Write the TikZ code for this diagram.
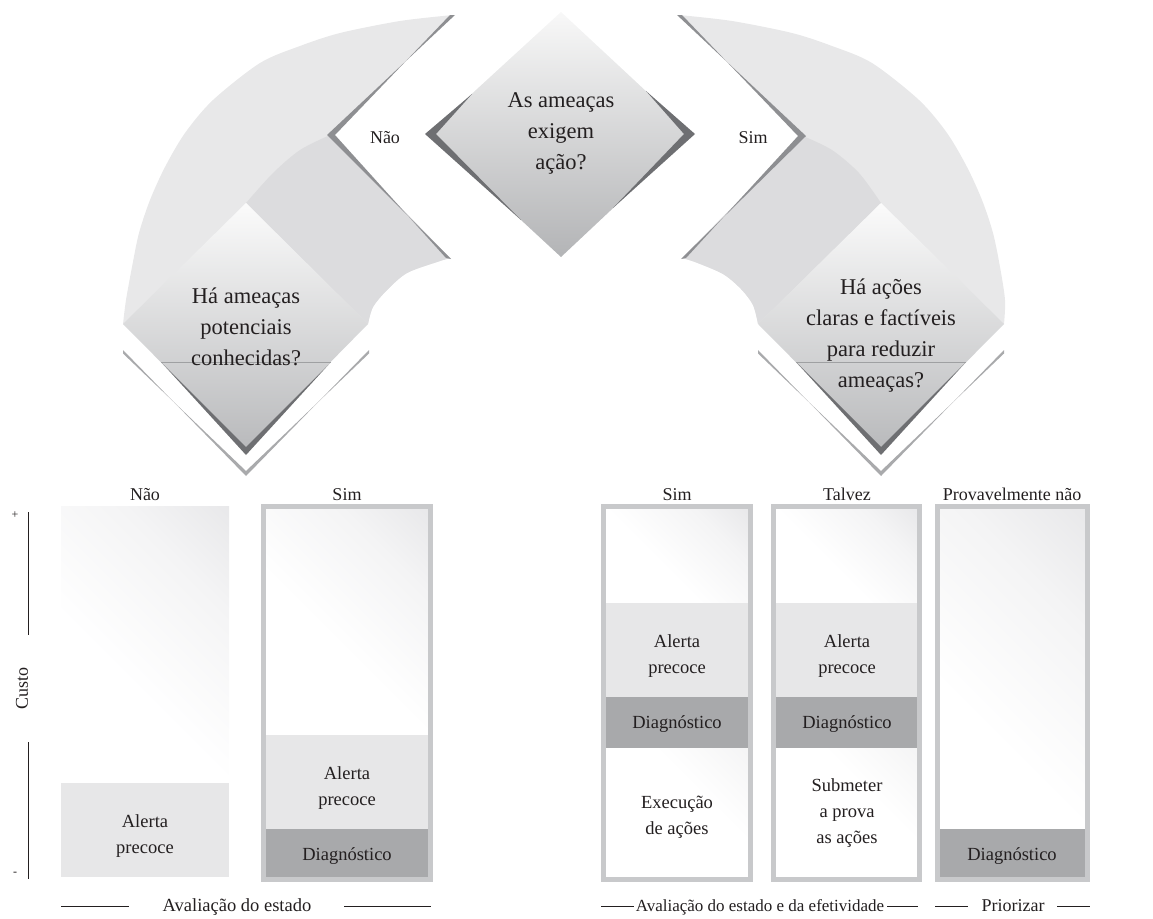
\documentclass[tikz,border=0pt]{standalone}
\usepackage{fontspec}
\setmainfont{Liberation Serif}
\definecolor{ink}{HTML}{231F20}
\definecolor{bandlight}{HTML}{E8E8E9}
\definecolor{banddark}{HTML}{DCDCDE}
\definecolor{edgedark}{HTML}{6E6F72}
\definecolor{notchgray}{HTML}{8E8F92}
\definecolor{shadowgray}{HTML}{A9AAAC}
\definecolor{hlinegray}{HTML}{9FA0A2}
\definecolor{framegray}{HTML}{C8C9CB}
\definecolor{alertgray}{HTML}{E7E7E8}
\definecolor{diaggray}{HTML}{A8A9AB}
\definecolor{cornersoft}{HTML}{F4F4F5}
\definecolor{cornermid}{HTML}{E6E6E8}
\definecolor{cornergray}{HTML}{D6D7D9}
\definecolor{cornerlight}{HTML}{EEEEEF}
\definecolor{dtop}{HTML}{F8F8F8}
\definecolor{dbot}{HTML}{B3B4B6}
\definecolor{ltop}{HTML}{FBFBFB}
\definecolor{lbot}{HTML}{B9BABC}
\pgfdeclarehorizontalshading{cornerfade}{100bp}{color(0bp)=(white); color(50bp)=(white); color(72bp)=(cornersoft); color(88bp)=(cornermid); color(100bp)=(cornergray)}
\pgfdeclarehorizontalshading{cornerfadelight}{100bp}{color(0bp)=(white); color(62bp)=(white); color(100bp)=(cornerlight)}
% a rectangle whose fill fades at 45 degrees towards its top right corner
\newcommand{\fadebox}[6]{%
  \begin{scope}
    \clip (#1,#2) rectangle (#3,#4);
    \shade[shading=#6, shading angle=45] (#3-#5,#2) rectangle (#3,#2+#5);
  \end{scope}}
\begin{document}
\begin{tikzpicture}[x=1pt,y=-1pt,
  qtext/.style={font=\fontsize{22.5}{31}\selectfont, align=center, text=ink, inner sep=0pt},
  ctext/.style={font=\fontsize{18.5}{26}\selectfont, align=center, text=ink, inner sep=0pt},
  lbl/.style={font=\fontsize{18}{22}\selectfont, text=ink, inner sep=0pt},
  tick/.style={font=\fontsize{12}{14}\selectfont, text=ink, inner sep=0pt},
  frame/.style={draw=framegray, line width=5pt},
  rule/.style={draw=ink, line width=0.8pt},
  hline/.style={draw=hlinegray, line width=0.7pt},
]
\useasboundingbox (0,0) rectangle (1153,918);

% ---------- left curved band ----------
\fill[bandlight] plot[smooth] coordinates {(453,15) (400,21) (340,33) (300,46) (260,63) (213,100) (185,133) (165,167) (150,200) (139,233) (132,267) (126,300) (123,324)}
  -- (368,324)
  -- plot[smooth] coordinates {(368,324) (373,307) (387,290) (407,273) (437,262) (450,258)}
  -- (330,135) -- cycle;
\fill[banddark] plot[smooth] coordinates {(330,135) (300,150) (273,173) (246,203)}
  -- (368,324)
  -- plot[smooth] coordinates {(368,324) (373,307) (387,290) (407,273) (437,262) (450,258)}
  -- cycle;
\fill[notchgray] (455,15) -- (327,135) -- (451,259) -- (446,258) -- (335,135) -- (450,15) -- cycle;

% ---------- right curved band ----------
\fill[bandlight] plot[smooth] coordinates {(679,15) (732,21) (792,33) (832,46) (872,63) (919,100) (947,133) (967,167) (982,200) (993,233) (1000,267) (1005,300) (1004,324)}
  -- (758,324)
  -- plot[smooth] coordinates {(758,324) (753,305) (741,289) (723,274) (695,262) (682,258)}
  -- (803,136) -- cycle;
\fill[banddark] plot[smooth] coordinates {(803,136) (832,150) (859,173) (881,203)}
  -- (758,324)
  -- plot[smooth] coordinates {(758,324) (753,305) (741,289) (723,274) (695,262) (682,258)}
  -- cycle;
\fill[notchgray] (677,15) -- (806,136) -- (681,259) -- (686,258) -- (798,136) -- (682,15) -- cycle;

% ---------- top decision ----------
\shade[top color=dtop, bottom color=dbot] (561,12) -- (692,134) -- (561,257) -- (428,134) -- cycle;
\fill[edgedark] (472,94) -- (425,134) -- (521,220) -- (436,134) -- cycle;
\fill[edgedark] (646,91) -- (695,134) -- (613,208) -- (684,134) -- cycle;

% ---------- lower left decision ----------
\fill[shadowgray] (123,350) -- (246,476) -- (369,350) -- (369,353.5) -- (246,471) -- (123,353.5) -- cycle;
\shade[top color=ltop, bottom color=lbot] (246,203) -- (368,324) -- (246,448) -- (123,324) -- cycle;
\fill[edgedark] (161,362) -- (246,455) -- (331,362) -- (246,447) -- cycle;
\draw[hline] (161,362) -- (331,362);

% ---------- lower right decision ----------
\fill[shadowgray] (758,350) -- (881,476) -- (1004,350) -- (1004,353.5) -- (881,471) -- (758,353.5) -- cycle;
\shade[top color=ltop, bottom color=lbot] (881,203) -- (1004,324) -- (881,448) -- (758,324) -- cycle;
\fill[edgedark] (796,362) -- (881,455) -- (966,362) -- (881,447) -- cycle;
\draw[hline] (796,362) -- (966,362);

% ---------- columns ----------
% Nao
\fadebox{61}{506}{229}{783}{277}{cornerfade}
\fill[alertgray] (61,783) rectangle (229,877);
% Sim (status)
\fadebox{266}{509}{428}{735}{226}{cornerfade}
\fill[alertgray] (266,735) rectangle (428,829);
\fill[diaggray] (266,829) rectangle (428,877);
\draw[frame] (263.5,506.5) rectangle (430.5,879.5);
% Sim (effectiveness)
\fadebox{606}{509}{748}{603}{142}{cornerfade}
\fill[alertgray] (606,603) rectangle (748,697);
\fill[diaggray] (606,697) rectangle (748,748);
\fadebox{606}{748}{748}{877}{142}{cornerfadelight}
\draw[frame] (603.5,506.5) rectangle (750.5,879.5);
% Talvez
\fadebox{776}{509}{917}{603}{141}{cornerfade}
\fill[alertgray] (776,603) rectangle (917,697);
\fill[diaggray] (776,697) rectangle (917,748);
\fadebox{776}{748}{917}{877}{141}{cornerfadelight}
\draw[frame] (773.5,506.5) rectangle (919.5,879.5);
% Provavelmente nao
\fadebox{940}{509}{1085}{829}{320}{cornerfade}
\fill[diaggray] (940,829) rectangle (1085,877);
\draw[frame] (937.5,506.5) rectangle (1087.5,879.5);

% ---------- cost axis ----------
\coordinate (ax1) at (28,512);
\coordinate (ax2) at (28,635);
\coordinate (ax3) at (28,742);
\coordinate (ax4) at (28,879);
\draw[rule] (ax1) -- (ax2);
\draw[rule] (ax3) -- (ax4);
\node[tick] (plus) at (15,515) {+};
\node[tick] (minus) at (15,874) {-};
\node[lbl, rotate=90] (cost) at (22,688) {Custo};

% ---------- texts ----------
\node[qtext] (q0) at (561,133) {As ameaças\\exigem\\ação?};
\node[qtext] (q1) at (246,327) {Há ameaças\\potenciais\\conhecidas?};
\node[qtext] (q2) at (881,336) {Há ações\\claras e factíveis\\para reduzir\\ameaças?};
\node[lbl, anchor=base] (no0) at (385,143) {Não};
\node[lbl, anchor=base] (yes0) at (753,143) {Sim};

\node[lbl, anchor=base] (h1) at (145,500) {Não};
\node[lbl, anchor=base] (h2) at (347,500) {Sim};
\node[lbl, anchor=base] (h3) at (677,500) {Sim};
\node[lbl, anchor=base] (h4) at (847,500) {Talvez};
\node[lbl, anchor=base] (h5) at (1012,500) {Provavelmente não};

\node[ctext] (c1a) at (145,836) {Alerta\\precoce};
\node[ctext] (c2a) at (347,788) {Alerta\\precoce};
\node[ctext] (c2d) at (347,856) {Diagnóstico};
\node[ctext] (c3a) at (677,656) {Alerta\\precoce};
\node[ctext] (c3d) at (677,724) {Diagnóstico};
\node[ctext] (c3e) at (677,817) {Execução\\de ações};
\node[ctext] (c4a) at (847,656) {Alerta\\precoce};
\node[ctext] (c4d) at (847,724) {Diagnóstico};
\node[ctext] (c4e) at (847,813) {Submeter\\a prova\\as ações};
\node[ctext] (c5d) at (1012,856) {Diagnóstico};

% ---------- group captions ----------
\node[lbl, font=\fontsize{18.5}{22}\selectfont, anchor=base] (g1) at (237,911) {Avaliação do estado};
\node[lbl, font=\fontsize{17}{22}\selectfont, anchor=base] (g2) at (760,911) {Avaliação do estado e da efetividade};
\node[lbl, anchor=base] (g3) at (1013,911) {Priorizar};
\draw[rule] (61,906) -- (129,906);
\draw[rule] (344,906) -- (431,906);
\draw[rule] (601,906) -- (634,906);
\draw[rule] (887,906) -- (918,906);
\draw[rule] (935,906) -- (968,906);
\draw[rule] (1057,906) -- (1090,906);
\end{tikzpicture}
\end{document}
